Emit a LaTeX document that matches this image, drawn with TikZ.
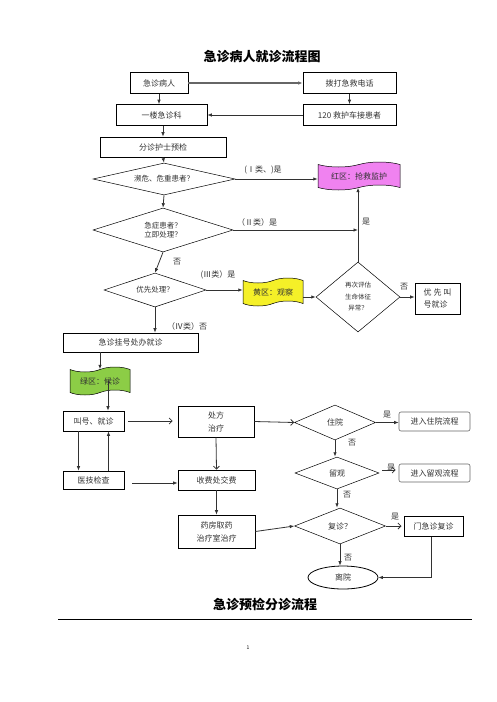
\documentclass[tikz,border=0pt]{standalone}
\usepackage{fontspec}
\setmainfont{Noto Sans CJK SC}
\usetikzlibrary{shapes.geometric,shapes.symbols,arrows.meta}
\newcommand\myfs[2]{\fontsize{#1}{#2}\selectfont}
\definecolor{redzone}{RGB}{240,130,240}
\definecolor{yelzone}{RGB}{245,240,40}
\definecolor{grnzone}{RGB}{140,205,70}
\definecolor{ink}{RGB}{50,50,50}
\begin{document}
\begin{tikzpicture}[x=1pt,y=-1pt,
  box/.style={draw, line width=0.7pt, rectangle, inner sep=1pt, font=\myfs{8}{13}, text=ink, align=center},
  rbox/.style={box, rounded corners=2pt, draw=black!60, line width=0.6pt},
  dia/.style={draw, diamond, line width=0.5pt, inner sep=0pt, font=\myfs{7.5}{9.5}, text=ink, align=center},
  flag/.style={tape, draw, line width=0.5pt, inner sep=1pt, tape bend height=5pt, font=\myfs{8}{10}, text=ink},
  arr/.style={-{Latex[length=4.5pt,width=3.5pt]}, line width=0.8pt, draw=ink},
  oarr/.style={-{Straight Barb[length=3pt,width=6pt]}, line width=0.8pt, draw=ink},
  lab/.style={font=\myfs{8}{10}, text=ink, inner sep=0pt}]
\useasboundingbox (0,0) rectangle (496,702);

\node[font=\myfs{13}{15}\bfseries] (title) at (262,57) {急诊病人就诊流程图};

\node[box, minimum width=58pt, minimum height=21pt] (n1) at (159,83) {急诊病人};
\node[box, minimum width=93pt, minimum height=21pt] (n2) at (349.5,83) {拨打急救电话};
\node[box, minimum width=91pt, minimum height=21pt] (n3) at (161.5,115) {一楼急诊科};
\node[box, minimum width=93pt, minimum height=21pt] (n4) at (349.5,115) {120 救护车接患者};
\node[box, minimum width=126pt, minimum height=20pt] (n5) at (163,147) {分诊护士预检};

\draw[-{Latex[length=4.5pt,width=3.5pt]}, line width=1.5pt, draw=black!60] (n1.east) -- (n2.west);
\draw[arr] (n1.south) -- (n1.south |- n3.north);
\draw[arr] (n2.south) -- (n2.south |- n4.north);
\draw[arr] (n4.west) -- (n3.east);
\draw[arr] (n5.south |- n3.south) -- (n5.north);

\node[dia, aspect=4.4, minimum width=142pt, minimum height=32pt] (d1) at (164,179) {濒危、危重患者？};
\draw[arr] (n5.south) -- (d1.north);
\node[flag, fill=redzone, minimum width=82pt, minimum height=28pt] (R) at (359,176) {红区：抢救监护};
\draw[arr] (d1.east) -- (R.west |- d1.east);
\node[lab] (l1) at (263,170) {(Ⅰ类、)是};

\node[dia, aspect=3.2, minimum width=140pt, minimum height=44pt] (d2) at (163,230) {急症患者？\\立即处理？};
\draw[arr] (d1.south) -- (d2.north);
\node[lab] (l2) at (257,222) {（Ⅱ类）是};

\node[dia, aspect=3, minimum width=102pt, minimum height=34pt] (d3) at (155,290) {优先处理？};
\draw[arr] (d2.south) -- (d3.north);
\node[lab] (l3) at (177,262) {否};

\node[flag, fill=yelzone, minimum width=60pt, minimum height=28pt] (Y) at (273,292) {黄区：观察};
\draw[arr] (d3.east) -- (Y.west |- d3.east);
\node[lab] (l4) at (218,275) {(Ⅲ类）是};

\node[dia, aspect=1.2, minimum width=84pt, minimum height=70pt, font=\myfs{6.5}{11.5}] (d4) at (358,297) {再次评估\\生命体征\\异常？};
\draw[arr] (Y.east |- d4.west) -- (d4.west);
\draw[arr] (d4.north) -- (d4.north |- R.south);
\coordinate (J) at (d4.north |- d2.east);
\draw[arr] (d2.east) -- (J);
\node[lab] (l5) at (366,222) {是};

\node[box, minimum width=45pt, minimum height=31pt, align=left, font=\myfs{8}{12}] (P) at (437.5,298.5) {优 先 叫\\号就诊};
\draw[arr] (d4.east) -- (P.west |- d4.east);
\node[lab] (l6) at (404,287) {否};

\node[box, minimum width=135pt, minimum height=19pt] (G1) at (130.5,342.5) {急诊挂号处办就诊};
\draw[arr] (d3.south) -- (d3.south |- G1.north);
\node[lab] (l7) at (187,326) {（Ⅳ类）否};

\node[flag, fill=grnzone, minimum width=60pt, minimum height=28pt] (GZ) at (100,381) {绿区：候诊};
\draw[arr] (G1.south -| GZ.north) -- (GZ.north);

\node[box, minimum width=61pt, minimum height=20pt] (C1) at (93.5,421) {叫号、就诊};
\node[box, minimum width=61pt, minimum height=18pt] (C2) at (93.5,480) {医技检查};
\draw[arr] ([xshift=8pt]GZ.center) -- ([xshift=8pt]GZ.center |- C1.north);
\draw[arr] ([xshift=-15pt]C1.south) -- ([xshift=-15pt]C2.north);
\draw[arr] ([xshift=15pt]C2.north) -- ([xshift=15pt]C1.south);

\node[box, minimum width=76pt, minimum height=31pt] (C3) at (216,421.5) {处方\\治疗};
\node[box, minimum width=77pt, minimum height=20pt] (C4) at (216.5,480) {收费处交费};
\node[box, minimum width=77pt, minimum height=33pt] (C5) at (216.5,531.5) {药房取药\\治疗室治疗};
\draw[oarr] ([xshift=4pt]C1.east) -- ([xshift=-5pt]C1.east -| C3.west);
\draw[arr] ([xshift=8pt,yshift=-3pt]C2.east) -- ([yshift=-3pt]C2.east -| C4.west);
\draw[oarr] (C3.south) -- (C4.north);
\draw[arr] (C4.south) -- (C5.north);

\node[dia, aspect=2.3, minimum width=81pt, minimum height=35pt, font=\myfs{8}{10}] (d5) at (335,422.5) {住院};
\node[rbox, minimum width=71pt, minimum height=19pt] (H1) at (434.5,421.5) {进入住院流程};
\draw[oarr] (C3.east) -- (d5.west);
\draw[arr] (d5.east) -- (H1.west |- d5.east);
\node[lab] (l8) at (387,415) {是};

\node[dia, aspect=2.6, minimum width=84pt, minimum height=32pt, font=\myfs{8}{10}] (d6) at (337,473) {留观};
\node[rbox, minimum width=71pt, minimum height=18pt] (H2) at (434.5,473) {进入留观流程};
\draw[arr] (d5.south) -- (d5.south |- d6.north);
\node[lab] (l9) at (352,443) {否};
\draw[oarr] ([xshift=3pt,yshift=3pt]d6.east) -- ([xshift=-3pt,yshift=3pt]H2.west);
\node[lab] (l10) at (391,468) {是};

\node[dia, aspect=2.5, minimum width=91pt, minimum height=36pt, font=\myfs{8}{10}] (d7) at (340,526) {复诊？};
\node[box, line width=1pt, minimum width=59pt, minimum height=20pt] (H3) at (433.5,526) {门急诊复诊};
\draw[arr] (d6.south) -- (d6.south |- d7.north);
\node[lab] (l11) at (347,495) {否};
\draw[arr] (C5.east) -- (d7.west);
\draw[oarr] (d7.east) -- ([xshift=-2pt]H3.west);
\node[lab] (l12) at (395,517) {是};

\node[draw, ellipse, line width=0.8pt, minimum width=70pt, minimum height=23pt, inner sep=0pt, font=\myfs{8}{10}, text=ink] (E) at (343,577.5) {离院};
\draw[arr] (d7.south) -- (d7.south |- E.north);
\node[lab] (l13) at (348,558) {否};
\draw[arr] ([xshift=-2pt]H3.south) |- (E.east);

\node[font=\myfs{13}{15}\bfseries] (title2) at (265,605) {急诊预检分诊流程};
\coordinate (ruleL) at (58,619);
\coordinate (ruleR) at (472,619);
\draw[line width=1pt] (ruleL) -- (ruleR);
\node[font=\myfs{5}{6}] (pg) at (248,648) {1};
\end{tikzpicture}
\end{document}
